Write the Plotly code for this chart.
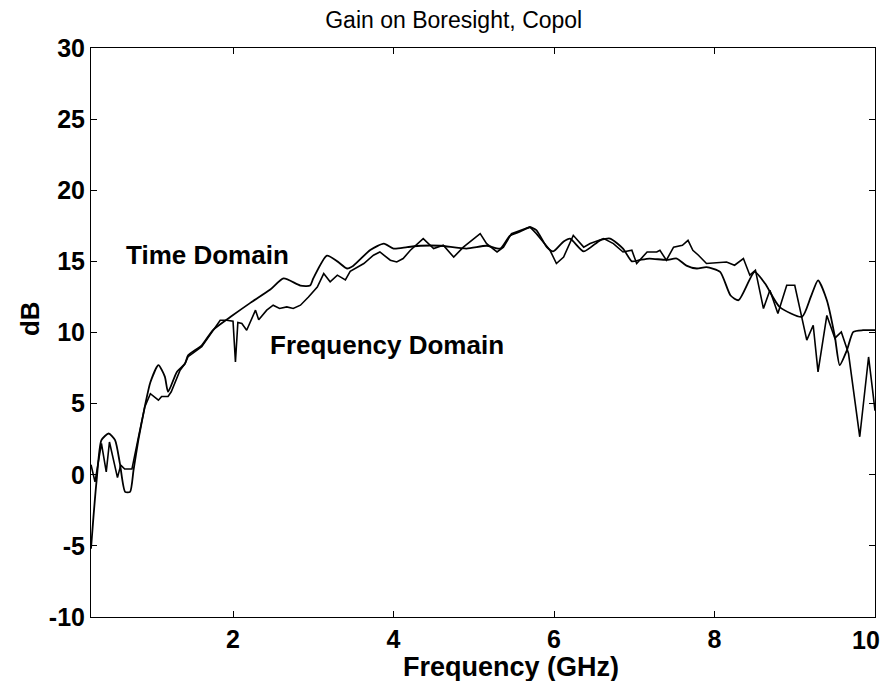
import plotly.graph_objects as go

# Time Domain (smoother curve)
td_freq = [0.23, 0.26, 0.30, 0.36, 0.45, 0.53, 0.59, 0.655, 0.717, 0.76, 0.82, 0.90, 0.97, 1.07, 1.15, 1.19, 1.30, 1.40, 1.44, 1.61, 1.75,
           1.97, 2.22, 2.46, 2.63, 2.84, 2.96, 3.0, 3.17, 3.30, 3.42, 3.50, 3.71, 3.88, 4.0, 4.17, 4.34, 4.58, 4.91, 5.16, 5.33,
           5.45, 5.58, 5.70, 5.78, 5.91, 5.99, 6.12, 6.20, 6.37, 6.58, 6.70, 6.86, 6.97, 7.07, 7.19, 7.40, 7.53, 7.65, 7.78,
           7.90, 8.07, 8.20, 8.30, 8.50, 8.63, 8.81, 9.09, 9.20, 9.29, 9.40, 9.50, 9.56, 9.65, 9.73, 9.85, 10.0]
td_gain = [-5.2, -3.0, -0.4, 2.43, 2.9, 2.43, 0.8, -1.2, -1.2, 0.33, 2.43, 4.77, 6.5, 7.7, 6.9, 5.83, 7.23, 7.8, 8.4, 9.1, 10.17,
           11.1, 12.1, 13.0, 13.8, 13.3, 13.3, 13.8, 15.4, 15.0, 14.5, 14.7, 15.8, 16.25, 15.9, 16.0, 16.1, 16.1, 15.9, 16.1, 15.9,
           16.8, 17.1, 17.4, 17.2, 16.0, 15.7, 16.4, 16.6, 15.7, 16.5, 16.6, 15.9, 15.0, 15.1, 15.2, 15.1, 15.2, 14.7, 14.5,
           14.6, 14.26, 12.6, 12.27, 14.26, 13.44, 11.8, 11.1, 12.5, 13.67, 12.27, 9.7, 7.7, 8.75, 10.04, 10.16, 10.16]

# Frequency Domain (noisier curve)
fd_freq = [0.23, 0.28, 0.36, 0.42, 0.46, 0.56, 0.60, 0.65, 0.72, 0.74, 0.82, 0.90, 0.97, 1.07, 1.11, 1.19, 1.23, 1.34, 1.40, 1.44,
           1.61, 1.75, 1.84, 1.92, 2.0, 2.03, 2.06, 2.11, 2.17, 2.28, 2.32, 2.42, 2.50, 2.58, 2.67, 2.75, 2.84, 2.94, 3.05, 3.13,
           3.21, 3.30, 3.40, 3.46, 3.63, 3.75, 3.83, 3.96, 4.04, 4.12, 4.21, 4.37, 4.50, 4.62, 4.75, 4.87, 5.08, 5.16, 5.29,
           5.37, 5.47, 5.70, 5.78, 5.95, 6.03, 6.12, 6.24, 6.37, 6.45, 6.62, 6.74, 6.86, 6.97, 7.03, 7.16, 7.28, 7.32, 7.40,
           7.49, 7.60, 7.67, 7.73, 7.80, 7.90, 8.00, 8.15, 8.25, 8.36, 8.44, 8.51, 8.61, 8.69, 8.79, 8.90, 9.00, 9.09, 9.15,
           9.23, 9.29, 9.40, 9.50, 9.58, 9.67, 9.81, 9.92, 9.97, 10.0]
fd_gain = [0.7, -0.5, 2.2, 0.2, 2.3, -0.2, 0.68, 0.4, 0.4, 0.4, 2.6, 4.77, 5.7, 5.24, 5.5, 5.5, 5.83, 7.35, 7.8, 8.3,
           9.0, 10.1, 10.86, 10.86, 10.8, 7.93, 10.7, 10.63, 10.16, 11.57, 10.9, 11.57, 11.92, 11.69, 11.8, 11.69, 11.92, 12.5, 13.2, 14.14,
           13.56, 14.03, 13.7, 14.3, 14.85, 15.43, 15.66, 15.08, 14.96, 15.2, 15.78, 16.6, 15.9, 16.13, 15.3, 16.0, 16.95, 16.25, 15.66,
           16.0, 16.95, 17.42, 16.95, 15.78, 14.85, 15.31, 16.83, 16.0, 16.25, 16.6, 16.25, 15.66, 15.78, 14.85, 15.66, 15.66, 15.78, 15.08,
           16.0, 16.13, 16.48, 15.78, 15.43, 14.85, 14.9, 14.96, 14.73, 15.2, 14.03, 14.38, 11.68, 12.97, 11.33, 13.32, 13.32, 11.1, 9.46,
           10.51, 7.23, 11.2, 9.6, 10.04, 8.52, 2.67, 8.28, 5.95, 4.5]

x_ticks = [2, 4, 6, 8, 10]
x_tick_labels = ["2", "4", "6", "8", "10"]
y_ticks = [-10, -5, 0, 5, 10, 15, 20, 25, 30]
y_tick_labels = ["-10", "-5", "0", "5", "10", "15", "20", "25", "30"]

FONT = "Liberation Sans, Arial, sans-serif"
TICKFONT = dict(family=FONT, size=25, color="black", weight="bold")

fig = go.Figure()
fig.add_trace(go.Scatter(x=td_freq, y=td_gain, mode="lines", name="Time Domain",
                         line=dict(color="black", width=1.8, shape="spline", smoothing=0.6)))
fig.add_trace(go.Scatter(x=fd_freq, y=fd_gain, mode="lines", name="Frequency Domain",
                         line=dict(color="black", width=1.6)))

fig.add_annotation(x=0.64, y=15.43, text="Time Domain", showarrow=False, xanchor="left", yanchor="middle",
                   font=dict(family=FONT, size=26, color="black", weight="bold"))
fig.add_annotation(x=2.44, y=9.1, text="Frequency Domain", showarrow=False, xanchor="left", yanchor="middle",
                   font=dict(family=FONT, size=26, color="black", weight="bold"))
# axis titles placed as in the reference
fig.add_annotation(x=0.536, xref="paper", y=0, yref="paper", yanchor="middle", yshift=-50,
                   text="Frequency (GHz)", showarrow=False,
                   font=dict(family=FONT, size=27, color="black", weight="bold"))
fig.add_annotation(x=-0.078, xref="paper", y=0.525, yref="paper", xanchor="center", yanchor="middle",
                   text="dB", textangle=-90, showarrow=False,
                   font=dict(family=FONT, size=26, color="black", weight="bold"))
# last x tick label drawn right-anchored so it stays inside the window
fig.add_annotation(x=x_ticks[-1], xref="x", y=0, yref="paper", xanchor="right", yanchor="middle",
                   xshift=7, yshift=-23, text=x_tick_labels[-1], showarrow=False, font=TICKFONT)
shown_x_labels = x_tick_labels[:-1] + [""]

# page body has an 8px default margin, so the figure is offset by 8px
fig.update_layout(
    width=874, height=673,
    margin=dict(l=83, r=7, t=40, b=64, autoexpand=False),
    paper_bgcolor="white", plot_bgcolor="white",
    showlegend=False,
    title=dict(text="Gain on Boresight, Copol", x=0.51, xref="container", xanchor="center",
               y=0.982, yanchor="middle",
               font=dict(family=FONT, size=23, color="black")),
    font=dict(family=FONT, color="black"),
)
fig.update_xaxes(range=[0.23, 10], tickvals=x_ticks, ticktext=shown_x_labels, ticks="inside", ticklen=6, tickcolor="black",
                 showline=True, linecolor="black", linewidth=1, mirror="ticks", showgrid=False, zeroline=False,
                 automargin=False, tickfont=TICKFONT)
fig.update_yaxes(range=[-10, 30], tickvals=y_ticks, ticktext=y_tick_labels, ticks="inside", ticklen=6, tickcolor="black",
                 showline=True, linecolor="black", linewidth=1, mirror="ticks", showgrid=False, zeroline=False,
                 automargin=False, tickfont=TICKFONT)

fig.write_html("out.html")
